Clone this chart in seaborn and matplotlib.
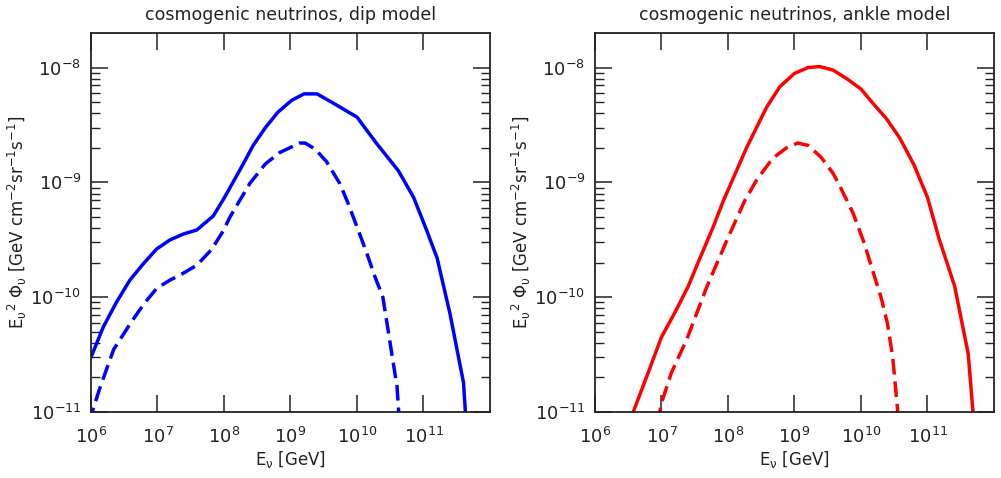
#!/usr/bin/env python3

import numpy as np
import pandas as pd
import matplotlib
matplotlib.use("Agg")
import matplotlib.pyplot as plt
import matplotlib.ticker as mticker
import seaborn as sns

# ===== DATA =====
# dip model, solid
DIP_ALL_E = [1.0e6, 1.53e6, 2.43e6, 3.85e6, 6.1e6, 9.7e6, 1.55e7, 2.45e7, 3.9e7, 6.9e7,
             1.02e8, 1.95e8, 2.75e8, 4.2e8, 6.5e8, 1.05e9, 1.6e9, 2.5e9, 4.4e9, 1.0e10,
             1.95e10, 4.2e10, 7.1e10, 1.12e11, 1.6e11, 2.5e11, 4.0e11, 4.6e11]
DIP_ALL_F = [3.0e-11, 5.5e-11, 9.1e-11, 1.41e-10, 1.95e-10, 2.63e-10, 3.16e-10, 3.55e-10,
             3.85e-10, 5.1e-10, 7.4e-10, 1.45e-9, 2.1e-9, 3.0e-9, 4.1e-9, 5.2e-9, 5.9e-9,
             5.9e-9, 4.9e-9, 3.7e-9, 2.2e-9, 1.26e-9, 7.4e-10, 3.8e-10, 2.2e-10, 7.2e-11,
             1.8e-11, 5.0e-12]
# dip model, dashed
DIP_SUB_E = [1.0e6, 1.07e6, 1.38e6, 2.19e6, 3.9e6, 6.2e6, 9.8e6, 1.55e7, 2.45e7, 3.9e7,
             6.5e7, 9.8e7, 1.23e8, 2.45e8, 4.2e8, 6.9e8, 1.38e9, 1.66e9, 2.35e9, 3.5e9,
             5.5e9, 7.1e9, 1.0e10, 1.41e10, 1.86e10, 2.45e10, 4.0e10, 4.5e10]
DIP_SUB_F = [8.0e-12, 1.05e-11, 1.66e-11, 3.5e-11, 5.9e-11, 8.7e-11, 1.2e-10, 1.41e-10,
             1.62e-10, 1.9e-10, 2.6e-10, 3.8e-10, 5.0e-10, 9.8e-10, 1.45e-9, 1.82e-9,
             2.2e-9, 2.2e-9, 1.95e-9, 1.51e-9, 9.8e-10, 6.9e-10, 4.1e-10, 2.4e-10, 1.51e-10,
             1.0e-10, 1.66e-11, 6.0e-12]
# ankle model, solid
ANK_ALL_E = [3.2e6, 3.76e6, 6.3e6, 1.0e7, 1.6e7, 2.5e7, 3.8e7, 6.0e7, 8.5e7, 1.9e8,
             3.8e8, 6.0e8, 1.0e9, 1.6e9, 2.4e9, 3.8e9, 6.3e9, 1.0e10, 1.5e10, 2.4e10,
             3.8e10, 4.8e10, 6.3e10, 1.0e11, 1.5e11, 2.55e11, 4.1e11, 4.8e11, 5.0e11]
ANK_ALL_F = [5.0e-12, 1.0e-11, 2.2e-11, 4.5e-11, 7.4e-11, 1.23e-10, 2.2e-10, 4.1e-10,
             6.9e-10, 2.0e-9, 4.5e-9, 6.8e-9, 8.9e-9, 1.0e-8, 1.02e-8, 9.5e-9, 7.9e-9,
             6.5e-9, 4.9e-9, 3.6e-9, 2.45e-9, 1.9e-9, 1.41e-9, 7.4e-10, 3.2e-10, 1.26e-10,
             3.2e-11, 1.05e-11, 6.0e-12]
# ankle model, dashed
ANK_SUB_E = [8.7e6, 1.0e7, 1.41e7, 2.4e7, 4.8e7, 1.0e8, 1.78e8, 2.7e8, 4.7e8, 7.6e8,
             1.12e9, 1.6e9, 2.5e9, 3.8e9, 4.8e9, 7.6e9, 1.12e10, 1.5e10, 2.0e10, 2.5e10,
             3.0e10, 3.55e10, 3.7e10]
ANK_SUB_F = [8.0e-12, 1.2e-11, 2.2e-11, 4.3e-11, 1.23e-10, 3.3e-10, 6.9e-10, 1.05e-9,
             1.62e-9, 2.0e-9, 2.2e-9, 2.1e-9, 1.66e-9, 1.2e-9, 9.3e-10, 5.4e-10, 2.95e-10,
             1.7e-10, 1.0e-10, 5.9e-11, 3.0e-11, 1.05e-11, 6.0e-12]

X_TICKS = [1e6, 1e7, 1e8, 1e9, 1e10, 1e11]
Y_TICKS = [1e-11, 1e-10, 1e-9, 1e-8]
TITLES = ["cosmogenic neutrinos, dip model", "cosmogenic neutrinos, ankle model"]
COLORS = ["blue", "red"]
XLABEL = r"E$_\nu$ [GeV]"
YLABEL = r"E$_\upsilon$$^2$ $\Phi_\upsilon$ [GeV cm$^{-2}$sr$^{-1}$s$^{-1}$]"
# =========================================

sns.set_style("ticks")
plt.rcParams["mathtext.default"] = "regular"
plt.rcParams["axes.unicode_minus"] = False
plt.rcParams["font.family"] = ["DejaVu Sans"]

fig = plt.figure(figsize=(10.01, 4.78), dpi=100)
ax_left = fig.add_axes([0.0909, 0.138, 0.3986, 0.793])
ax_right = fig.add_axes([0.5944, 0.138, 0.3986, 0.793])

panels = [
    (ax_left, DIP_ALL_E, DIP_ALL_F, DIP_SUB_E, DIP_SUB_F),
    (ax_right, ANK_ALL_E, ANK_ALL_F, ANK_SUB_E, ANK_SUB_F),
]

# minor y ticks 2..9 x decade, only inside the visible range
minor_y = [m * d for d in Y_TICKS for m in range(2, 10) if m * d < 2e-8]

for i, (ax, e1, f1, e2, f2) in enumerate(panels):
    solid = pd.DataFrame({"E": e1, "F": f1})
    dashed = pd.DataFrame({"E": e2, "F": f2})
    sns.lineplot(data=solid, x="E", y="F", ax=ax, color=COLORS[i], lw=2.5, sort=False)
    sns.lineplot(data=dashed, x="E", y="F", ax=ax, color=COLORS[i], lw=2.5,
                 sort=False, linestyle=(0, (4.5, 2)))
    ax.set_xscale("log")
    ax.set_yscale("log")
    ax.set_xlim(1e6, 1e12)
    ax.set_ylim(1e-11, 2e-8)

    ax.xaxis.set_major_locator(mticker.FixedLocator(X_TICKS))
    ax.xaxis.set_minor_locator(mticker.NullLocator())
    ax.yaxis.set_major_locator(mticker.FixedLocator(Y_TICKS))
    ax.yaxis.set_major_formatter(mticker.LogFormatterSciNotation())
    ax.xaxis.set_major_formatter(mticker.LogFormatterSciNotation())
    ax.yaxis.set_minor_locator(mticker.FixedLocator(minor_y))
    ax.yaxis.set_minor_formatter(mticker.NullFormatter())

    ax.tick_params(which="both", direction="in", top=True, right=True,
                   labelsize=13, colors="#222222")
    ax.tick_params(which="major", length=12, width=1.1)
    ax.tick_params(which="minor", length=6.5, width=1.0)
    ax.tick_params(axis="x", which="major", pad=11)
    ax.tick_params(axis="y", which="major", pad=7)
    for sp in ax.spines.values():
        sp.set_linewidth(1.3)
        sp.set_color("#222222")

    ax.set_title(TITLES[i], fontsize=12.5, pad=9, color="#222222")
    ax.set_xlabel(XLABEL, fontsize=12, labelpad=1, color="#222222")
    ax.set_ylabel(YLABEL, fontsize=12, labelpad=1, color="#222222")

fig.savefig("out.png", dpi=100)
